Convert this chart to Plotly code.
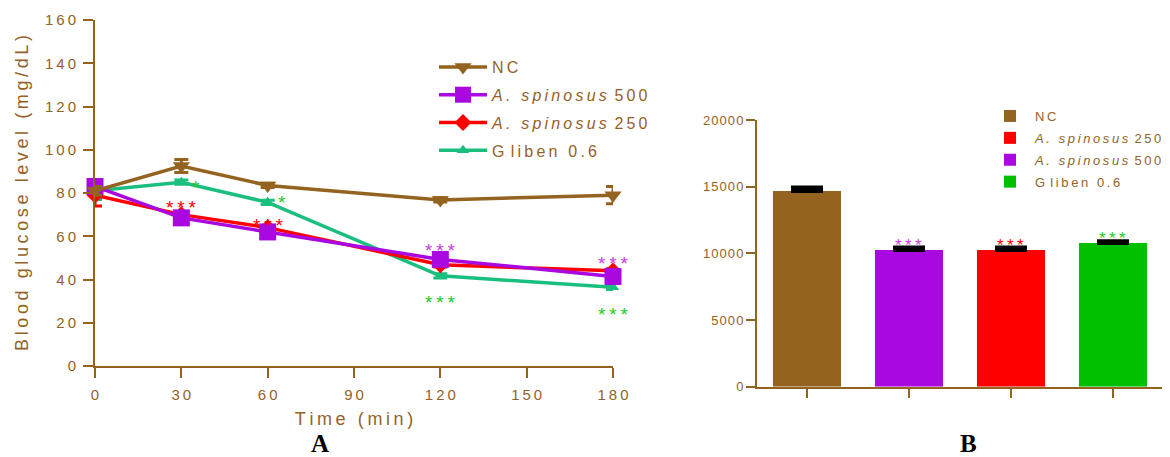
import plotly.graph_objects as go

PAGE_W, PAGE_H = 1170, 457
OFF = 8  # default body margin of the written page
W, H = PAGE_W - OFF, PAGE_H - OFF
BROWN = "#94631F"
TXT = "#936228"

def sp(s, ch="\u2009"):
    return ch.join(list(s))

# ---------- Panel A data ----------
time_min = [0, 30, 60, 120, 180]
nc = [81, 92.5, 83.5, 76.8, 79]
nc_err = [2, 3, 1, 1, 4]
as500 = [83, 68.5, 62, 49.3, 41.4]
as500_err = [2, 1, 1, 1, 1]
as250 = [79, 70, 64, 46.8, 44]
as250_err = [5, 1, 1, 1, 1]
gliben = [81, 85, 75.7, 41.7, 36.4]
gliben_err = [4, 1, 1, 1, 1]

# significance marks (x, y, text, color)
sig_a_x = [35, 65, 30, 60, 120, 180, 120, 180]
sig_a_y = [82.5, 75.5, 73.5, 65, 53.5, 47.2, 29.5, 24]
sig_a_txt = ["*", "*", "***", "***", "***", "***", "***", "***"]
sig_a_col = ["#22CC22", "#22CC22", "#FF0000", "#FF0000", "#C83CE0", "#C83CE0", "#22CC22", "#22CC22"]

# ---------- Panel B data ----------
groups = ["NC", "A. spinosus 500", "A. spinosus 250", "Gliben 0.6"]
auc = [14680, 10250, 10250, 10780]
auc_err = [250, 180, 180, 130]
bar_colors = ["#94631F", "#AA08E0", "#FF0000", "#00C000"]
bar_legend_rank = [1, 3, 2, 4]
sig_b = ["", "***", "***", "***"]
sig_b_col = ["", "#C83CE0", "#FF0000", "#22CC22"]

def px_x(p):
    return (p - OFF) / W

def px_y(p):
    return 1 - (p - OFF) / H

fig = go.Figure()

series = [
    (nc, nc_err, BROWN, "triangle-down", 15, 1),
    (as500, as500_err, "#AA08E0", "square", 17, 2),
    (as250, as250_err, "#FF0000", "diamond", 13, 3),
    (gliben, gliben_err, "#1ABF7F", "triangle-up", 11, 4),
]
GAP = "\u00a0\u2009"
names = [
    sp("NC"),
    "<i>" + sp("A. spinosus") + "</i>" + GAP + sp("500"),
    "<i>" + sp("A. spinosus") + "</i>" + GAP + sp("250"),
    sp("Gliben 0.6").replace("G\u2009l", "G\u2009\u2009l"),
]
draw_order = [3, 2, 1, 0]
for i in draw_order:
    y, err, col, sym, size, rank = series[i]
    fig.add_trace(go.Scatter(
        x=time_min, y=y, mode="lines+markers", name=names[i],
        line=dict(color=col, width=3.5),
        marker=dict(color=col, symbol=sym, size=size, line=dict(width=0)),
        error_y=dict(type="data", array=err, color=col, thickness=3, width=7),
        cliponaxis=False, legendrank=rank, legendgroup="a%d" % i,
        xaxis="x", yaxis="y", legend="legend",
    ))

for xx, yy, tt, cc in zip(sig_a_x, sig_a_y, sig_a_txt, sig_a_col):
    fig.add_annotation(x=xx, y=yy, xref="x", yref="y", text=sp(tt, "\u2009"),
                       showarrow=False, font=dict(size=19, color=cc, family="Liberation Sans"),
                       yanchor="middle", xanchor="center")

for i, g in enumerate(groups):
    fig.add_trace(go.Bar(
        x=[g], y=[auc[i]], name=names[i], marker=dict(color=bar_colors[i], line=dict(width=0)),
        width=0.667,
        error_y=dict(type="data", array=[auc_err[i]], arrayminus=[0], color="black", thickness=4, width=16),
        legendrank=bar_legend_rank[i], legendgroup="b%d" % i, xaxis="x2", yaxis="y2", legend="legend2",
    ))
    if sig_b[i]:
        fig.add_annotation(x=g, y=auc[i] + auc_err[i], xref="x2", yref="y2", text=sp(sig_b[i]),
                           showarrow=False, font=dict(size=17, color=sig_b_col[i], family="Liberation Sans"),
                           yanchor="bottom", yshift=-9)

axis_common = dict(showline=True, linecolor=BROWN, linewidth=2, ticks="outside",
                   tickcolor=BROWN, tickwidth=2, showgrid=False, zeroline=False,
                   mirror=False, automargin=False)

xt = [0, 30, 60, 90, 120, 150, 180]
yt = [0, 20, 40, 60, 80, 100, 120, 140, 160]
fig.update_layout(
    width=W, height=H, margin=dict(l=0, r=0, t=0, b=0, autoexpand=False),
    paper_bgcolor="white", plot_bgcolor="white",
    font=dict(family="Liberation Sans", color=TXT),
    barmode="overlay",
    xaxis=dict(domain=[px_x(95), px_x(613)], range=[0, 180], anchor="y",
               tickvals=xt, ticktext=[sp(str(v)) for v in xt], ticklen=10,
               tickfont=dict(size=15, color=TXT), ticklabelstandoff=4,
               title=dict(text=sp("Time (min)"), font=dict(size=18, color=TXT), standoff=10),
               **axis_common),
    yaxis=dict(domain=[px_y(366), px_y(20)], range=[0, 160], anchor="x",
               tickvals=yt, ticktext=[sp(str(v)) for v in yt], ticklen=10,
               tickfont=dict(size=15, color=TXT), ticklabelstandoff=4,
               title=dict(text=sp("Blood glucose level (mg/dL)"), font=dict(size=18, color=TXT), standoff=12),
               **axis_common),
    xaxis2=dict(domain=[px_x(757), px_x(1165)], range=[-0.49, 3.51], anchor="y2",
                type="category", showticklabels=False, ticklen=9, **axis_common),
    yaxis2=dict(domain=[px_y(386.7), px_y(120)], range=[0, 20000], anchor="x2",
                tickvals=[0, 5000, 10000, 15000, 20000],
                ticktext=[sp(str(v), "\u200a") for v in [0, 5000, 10000, 15000, 20000]],
                tickfont=dict(size=13, color=TXT), ticklen=9, **axis_common),
    legend=dict(x=px_x(434), y=px_y(50), xanchor="left", yanchor="top",
                font=dict(size=16, color=TXT), bgcolor="rgba(0,0,0,0)",
                tracegroupgap=4, itemwidth=48),
    legend2=dict(x=px_x(985), y=px_y(101), xanchor="left", yanchor="top",
                 font=dict(size=13, color=TXT), bgcolor="rgba(0,0,0,0)",
                 tracegroupgap=2, itemwidth=40),
)

fig.add_annotation(x=px_x(320), y=px_y(443), xref="paper", yref="paper", text="<b>A</b>",
                   xanchor="center", yanchor="middle",
                   showarrow=False, font=dict(size=25, color="black", family="Liberation Serif"))
fig.add_annotation(x=px_x(968), y=px_y(443), xref="paper", yref="paper", text="<b>B</b>",
                   xanchor="center", yanchor="middle",
                   showarrow=False, font=dict(size=25, color="black", family="Liberation Serif"))

fig.write_html("out.html")
